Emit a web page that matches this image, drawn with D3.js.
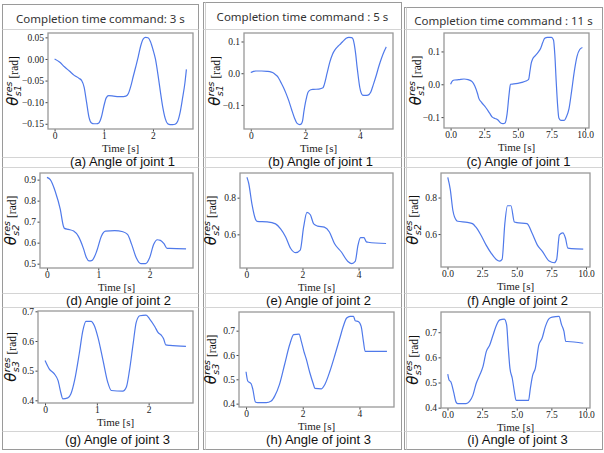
<!DOCTYPE html>
<meta charset="utf-8">
<script src="https://cdn.jsdelivr.net/npm/d3@7"></script>
<style>
	body{
		margin:0;
		background:#fff;
	}
	svg{
		display:block;
	}
	.serif{
		font-family:"Liberation Serif","DejaVu Serif","Times New Roman",Times,serif;
	}
</style>
<div id="chart"></div>
<script>

// values
var headers = ["Completion time command: 3 s","Completion time command : 5 s","Completion time command : 11 s"]
var captions = ["(a) Angle of joint 1","(b) Angle of joint 1","(c) Angle of joint 1",
	"(d) Angle of joint 2","(e) Angle of joint 2","(f) Angle of joint 2",
	"(g) Angle of joint 3","(h) Angle of joint 3","(i) Angle of joint 3"]
var jointSub = ["s1","s2","s3"]

var xTicks3 = [0,1,2]
var xTicks5 = [0,2,4]
var xTicks11 = [0,2.5,5,7.5,10]
var yTicksJ1a = [-0.15,-0.10,-0.05,0.00,0.05]
var yTicksJ1 = [-0.1,0.0,0.1]
var yTicksJ2a = [0.5,0.6,0.7,0.8,0.9]
var yTicksJ2 = [0.6,0.8]
var yTicksJ3 = [0.4,0.5,0.6,0.7]

// (a)
var tA = [0,0.1,0.2,0.3,0.4,0.5,0.55,0.6,0.65,0.7,0.75,0.8,0.85,0.9,0.95,1.0,1.05,1.1,1.2,1.3,1.4,1.45,1.5,1.55,1.6,1.65,1.7,1.75,1.8,1.85,1.9,1.95,2.0,2.05,2.1,2.15,2.2,2.25,2.3,2.35,2.4,2.45,2.5,2.55,2.6,2.65,2.68]
var vA = [0.000,-0.007,-0.018,-0.028,-0.038,-0.045,-0.05,-0.065,-0.1,-0.135,-0.148,-0.15,-0.15,-0.148,-0.135,-0.11,-0.09,-0.085,-0.086,-0.087,-0.087,-0.086,-0.08,-0.063,-0.04,-0.018,0.005,0.03,0.046,0.05,0.049,0.04,0.022,0.0,-0.035,-0.075,-0.112,-0.138,-0.15,-0.152,-0.152,-0.151,-0.145,-0.125,-0.092,-0.055,-0.024]
// (b)
var tB = [0,0.1,0.2,0.4,0.6,0.7,0.8,0.9,1.0,1.1,1.2,1.3,1.4,1.5,1.6,1.7,1.8,1.85,1.9,1.95,2.0,2.05,2.1,2.2,2.3,2.5,2.65,2.7,2.8,2.9,3.0,3.1,3.2,3.3,3.4,3.5,3.6,3.7,3.75,3.8,3.85,3.9,3.95,4.0,4.05,4.1,4.2,4.3,4.4,4.5,4.6,4.7,4.8,4.9,4.97]
var vB = [0.002,0.006,0.007,0.007,0.006,0.005,0.002,-0.004,-0.012,-0.028,-0.045,-0.065,-0.088,-0.115,-0.14,-0.158,-0.162,-0.16,-0.15,-0.12,-0.095,-0.075,-0.06,-0.052,-0.051,-0.05,-0.046,-0.035,0.0,0.035,0.06,0.075,0.085,0.093,0.102,0.11,0.113,0.112,0.108,0.09,0.06,0.02,-0.015,-0.045,-0.062,-0.069,-0.07,-0.069,-0.06,-0.035,-0.008,0.022,0.048,0.07,0.083]
// (c)
var tC = [0,0.15,0.3,0.6,1.0,1.3,1.6,1.8,2.0,2.1,2.3,2.6,2.9,3.1,3.3,3.5,3.7,3.9,4.05,4.2,4.35,4.45,4.7,5.0,5.3,5.6,5.8,5.9,6.0,6.1,6.3,6.5,6.7,6.85,7.0,7.2,7.5,7.65,7.75,7.85,7.95,8.05,8.2,8.45,8.6,8.8,9.0,9.2,9.4,9.6,9.8]
var vC = [0.0,0.011,0.013,0.014,0.016,0.014,0.008,-0.005,-0.028,-0.043,-0.055,-0.07,-0.088,-0.1,-0.104,-0.108,-0.117,-0.12,-0.118,-0.09,-0.03,0.0,0.001,0.003,0.006,0.01,0.015,0.04,0.065,0.077,0.087,0.097,0.11,0.127,0.14,0.143,0.143,0.135,0.09,0.01,-0.06,-0.103,-0.11,-0.11,-0.1,-0.075,-0.02,0.04,0.085,0.106,0.112]
// (d)
var tD = [0,0.065,0.16,0.26,0.32,0.34,0.42,0.52,0.61,0.71,0.77,0.82,0.88,0.97,1.06,1.14,1.32,1.48,1.57,1.65,1.74,1.83,1.92,2.0,2.08,2.15,2.21,2.28,2.34,2.39,2.71]
var vD = [0.911,0.9,0.845,0.758,0.679,0.668,0.663,0.655,0.631,0.573,0.528,0.513,0.516,0.56,0.631,0.655,0.657,0.652,0.639,0.592,0.528,0.5,0.5,0.528,0.592,0.614,0.611,0.595,0.573,0.573,0.57]
// (e)
var tE = [0.02,0.08,0.2,0.32,0.38,0.74,1.04,1.22,1.4,1.58,1.76,1.92,2.04,2.16,2.28,2.4,2.54,2.78,2.96,3.14,3.38,3.62,3.76,3.88,3.98,4.07,4.19,4.28,4.34,4.98]
var vE = [0.911,0.88,0.764,0.684,0.671,0.668,0.657,0.63,0.586,0.523,0.5,0.514,0.639,0.72,0.707,0.657,0.645,0.639,0.613,0.55,0.505,0.452,0.44,0.452,0.541,0.582,0.582,0.559,0.557,0.55]
// (f)
var tF = [0.02,0.2,0.39,0.64,0.74,1.43,1.8,2.04,2.41,2.78,3.15,3.52,3.77,3.94,4.14,4.33,4.58,4.83,5.0,5.74,6.11,6.48,6.85,7.34,7.71,7.88,8.08,8.33,8.52,8.69,8.94,9.8]
var vF = [0.911,0.845,0.729,0.675,0.67,0.664,0.657,0.639,0.595,0.541,0.496,0.461,0.452,0.461,0.657,0.755,0.755,0.666,0.663,0.657,0.604,0.541,0.505,0.452,0.443,0.461,0.595,0.607,0.577,0.523,0.52,0.518]
// (g)
var tG = [0,0.08,0.18,0.25,0.31,0.34,0.44,0.5,0.57,0.66,0.73,0.79,0.89,0.95,1.02,1.12,1.21,1.28,1.5,1.57,1.63,1.7,1.76,1.83,1.95,2.02,2.12,2.18,2.25,2.29,2.33,2.41,2.72]
var vG = [0.534,0.506,0.489,0.467,0.422,0.405,0.408,0.422,0.467,0.557,0.635,0.666,0.666,0.652,0.613,0.534,0.461,0.433,0.431,0.445,0.501,0.59,0.663,0.685,0.687,0.674,0.648,0.629,0.618,0.607,0.587,0.585,0.582]
// (h)
var tH = [0,0.06,0.18,0.24,0.33,0.41,0.71,0.89,1.01,1.18,1.36,1.54,1.68,1.87,1.95,2.04,2.13,2.25,2.37,2.43,2.66,2.78,2.96,3.14,3.31,3.43,3.55,3.67,3.79,3.85,3.96,4.06,4.14,4.2,4.26,4.97]
var vH = [0.531,0.493,0.482,0.459,0.407,0.404,0.404,0.411,0.431,0.479,0.561,0.643,0.684,0.686,0.656,0.615,0.581,0.527,0.482,0.463,0.461,0.479,0.534,0.602,0.67,0.718,0.752,0.759,0.759,0.741,0.738,0.718,0.656,0.615,0.615,0.615]
// (i)
var tI = [0.02,0.12,0.24,0.44,0.61,0.73,1.34,1.59,1.83,2.07,2.32,2.56,2.8,3.05,3.29,3.54,3.78,4.1,4.27,4.39,4.51,4.68,4.83,4.95,5.85,5.98,6.15,6.34,6.59,6.83,7.07,7.32,7.56,8.05,8.24,8.41,8.54,8.66,9.8]
var vI = [0.533,0.509,0.503,0.463,0.423,0.416,0.416,0.425,0.449,0.496,0.529,0.563,0.623,0.649,0.689,0.729,0.749,0.752,0.729,0.636,0.556,0.516,0.463,0.429,0.429,0.476,0.529,0.556,0.649,0.676,0.723,0.753,0.76,0.763,0.729,0.703,0.663,0.663,0.656]

// layout of the page
var W = 604, H = 453
var cols = [
	{x0:2.5, x1:198.5, y0:4.5, headY:20},
	{x0:203.5, x1:401.5, y0:2.5, headY:18},
	{x0:404.5, x1:602.5, y0:7.5, headY:22}
]
var bandLines = [29.5,157.5,167.5,293.5,307.5,431.5]
var bottomY = 449.5
var captionY = [166,305,444]

// plot frames [left, top, right, bottom] and y-label baseline x
var panels = [
	{t:tA, v:vA, xt:xTicks3, yt:yTicksJ1a, yf:".2f", xf:"d", box:[48,33,193,129], lx:18},
	{t:tB, v:vB, xt:xTicks5, yt:yTicksJ1, yf:".1f", xf:"d", box:[244,33,393,129], lx:220},
	{t:tC, v:vC, xt:xTicks11, yt:yTicksJ1, yf:".1f", xf:".1f", box:[444,33,589,128], lx:421},
	{t:tD, v:vD, xt:xTicks3, yt:yTicksJ2a, yf:".1f", xf:"d", box:[40,173,193,268], lx:16},
	{t:tE, v:vE, xt:xTicks5, yt:yTicksJ2, yf:".1f", xf:"d", box:[240,173,393,268], lx:216},
	{t:tF, v:vF, xt:xTicks11, yt:yTicksJ2, yf:".1f", xf:".1f", box:[441,173,590,267], lx:418},
	{t:tG, v:vG, xt:xTicks3, yt:yTicksJ3, yf:".1f", xf:"d", box:[38,311,193,403], lx:16},
	{t:tH, v:vH, xt:xTicks5, yt:yTicksJ3, yf:".1f", xf:"d", box:[239,312,394,407], lx:216},
	{t:tI, v:vI, xt:xTicks11, yt:yTicksJ3, yf:".1f", xf:".1f", box:[441,312,590,408], lx:418}
]

var lineColor = "#4f79ea"

var svg = d3.select("#chart").append("svg")
	.attr("width",W)
	.attr("height",H)

// column boxes
cols.forEach(function(c,i){
	svg.append("rect")
		.attr("x",c.x0).attr("y",c.y0)
		.attr("width",c.x1-c.x0).attr("height",bottomY-c.y0)
		.attr("fill","none").attr("stroke","#9a9a9a").attr("stroke-width",1)
	if(i>0){
		svg.append("line")
			.attr("x1",c.x0+2).attr("x2",c.x0+2)
			.attr("y1",c.y0).attr("y2",bottomY)
			.attr("stroke","#cfcfcf")
	}
	bandLines.forEach(function(y){
		svg.append("line")
			.attr("x1",c.x0).attr("x2",c.x1)
			.attr("y1",y).attr("y2",y)
			.attr("stroke","#d4d4d4")
	})
	svg.append("text")
		.text(headers[i])
		.attr("x",(c.x0+c.x1)/2)
		.attr("y",c.headY)
		.attr("dominant-baseline","middle")
		.attr("text-anchor","middle")
		.style("font-family","'Noto Sans',sans-serif")
		.style("font-size","11.5px")
		.style("fill","#333")
})

panels.forEach(function(p,i){
	var l = p.box[0], t = p.box[1], r = p.box[2], b = p.box[3]
	var row = Math.floor(i/3)

	// matplotlib-like 5% margins around the data
	var tx = d3.extent(p.t), vy = d3.extent(p.v)
	var padT = (tx[1]-tx[0])*0.05, padV = (vy[1]-vy[0])*0.05
	var x = d3.scaleLinear().domain([tx[0]-padT, tx[1]+padT]).range([l,r])
	var y = d3.scaleLinear().domain([vy[0]-padV, vy[1]+padV]).range([b,t])

	var g = svg.append("g")

	var line = d3.line()
		.x(function(d,k){ return x(p.t[k]) })
		.y(function(d){ return y(d) })
		.curve(d3.curveMonotoneX)

	g.append("path")
		.datum(p.v)
		.attr("d",line)
		.attr("fill","none")
		.attr("stroke",lineColor)
		.attr("stroke-width",1.2)

	var yAxis = g.append("g")
		.attr("transform","translate("+l+",0)")
		.call(d3.axisLeft(y).tickValues(p.yt).tickFormat(d3.format(p.yf)).tickSize(2.5).tickPadding(1.5))
	var xAxis = g.append("g")
		.attr("transform","translate(0,"+b+")")
		.call(d3.axisBottom(x).tickValues(p.xt).tickFormat(d3.format(p.xf)).tickSize(2.5).tickPadding(1))
	;[yAxis,xAxis].forEach(function(a){
		a.attr("font-family",null).attr("font-size",null)
		a.select(".domain").remove()
		a.selectAll("line").attr("stroke","#444")
		a.selectAll("text")
			.attr("class","serif")
			.style("font-size","9.5px")
			.attr("fill","#222")
	})

	g.append("rect")
		.attr("x",l).attr("y",t)
		.attr("width",r-l).attr("height",b-t)
		.attr("fill","none")
		.attr("stroke","#999")
		.attr("stroke-width",1.3)

	g.append("text")
		.attr("class","serif")
		.text("Time [s]")
		.attr("x",(l+r)/2)
		.attr("y",b+22.5)
		.attr("text-anchor","middle")
		.style("font-size","11px")
		.attr("fill","#222")

	// y label: theta with res / s_n stacked, then [rad]
	var lab = g.append("g")
		.attr("transform","translate("+p.lx+","+((t+b)/2)+") rotate(-90)")
	var inner = lab.append("g")
	var th = inner.append("text").text("θ")
		.style("font-family","'DejaVu Sans',sans-serif")
		.style("font-style","italic")
		.style("font-size","15px")
		.attr("fill","#111")
	var w1 = th.node().getComputedTextLength()
	var sup = inner.append("text").text("res")
		.attr("x",w1+0.5).attr("y",-6.5)
		.style("font-family","'DejaVu Sans',sans-serif")
		.style("font-style","italic")
		.style("font-size","9.5px")
		.attr("fill","#111")
	var sub = inner.append("text").text(jointSub[row])
		.attr("x",w1+0.5).attr("y",3)
		.style("font-family","'DejaVu Sans',sans-serif")
		.style("font-style","italic")
		.style("font-size","9.5px")
		.attr("fill","#111")
	var w2 = Math.max(sup.node().getComputedTextLength(), sub.node().getComputedTextLength())
	var rad = inner.append("text").text("[rad]")
		.attr("class","serif")
		.attr("x",w1+0.5+w2+3)
		.style("font-size","11.5px")
		.attr("fill","#111")
	var total = w1+0.5+w2+3+rad.node().getComputedTextLength()
	inner.attr("transform","translate("+(-total/2)+",0)")

	g.append("text")
		.text(captions[i])
		.attr("x",(l+r)/2+2)
		.attr("y",captionY[row])
		.attr("text-anchor","middle")
		.style("font-family","'Liberation Sans',Arial,sans-serif")
		.style("font-size","13px")
		.attr("fill","#111")
})

</script>
